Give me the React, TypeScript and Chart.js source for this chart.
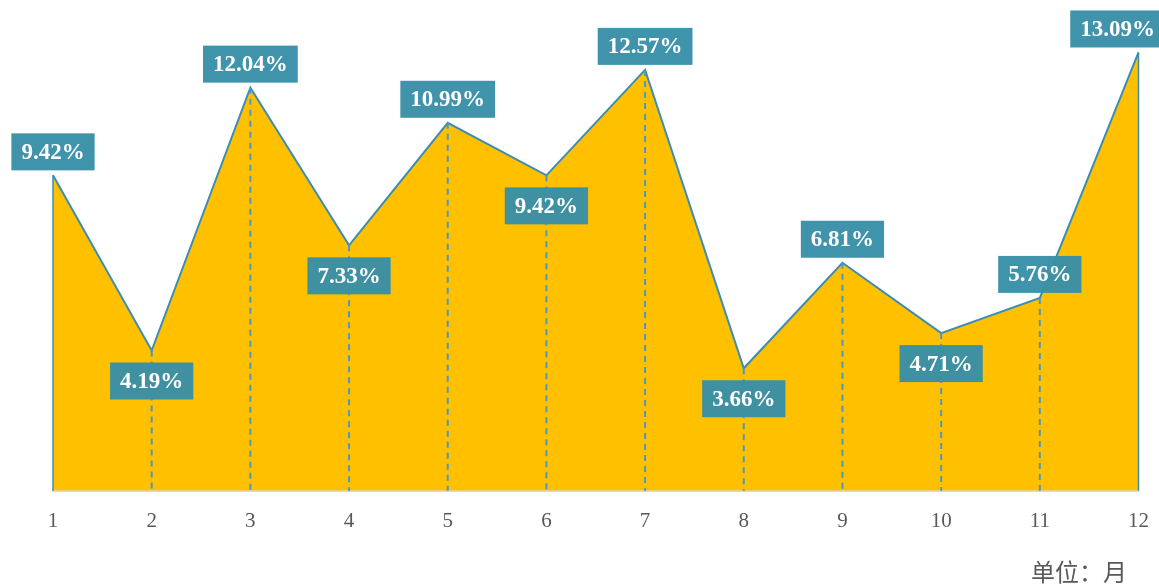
import React, { useEffect, useRef } from "react";
import { Chart, registerables } from "chart.js";

Chart.register(...registerables);

const months = ["1", "2", "3", "4", "5", "6", "7", "8", "9", "10", "11", "12"];
const rates = [9.42, 4.19, 12.04, 7.33, 10.99, 9.42, 12.57, 3.66, 6.81, 4.71, 5.76, 13.09];
const unitLabel = "单位：月";

const W = 1159;
const H = 585;

const labelPlugin = {
  id: "pointLabels",
  afterDatasetsDraw(chart: any) {
    const ctx = chart.ctx;
    const meta = chart.getDatasetMeta(0);
    const base = chart.scales.y.getPixelForValue(0);
    const pts = meta.data;
    ctx.save();
    pts.forEach((p: any, i: number) => {
      ctx.beginPath();
      if (i === 0 || i === pts.length - 1) {
        ctx.setLineDash([]);
        ctx.lineWidth = 1.5;
        ctx.strokeStyle = "#3B8DB4";
      } else {
        ctx.setLineDash([6, 5]);
        ctx.lineWidth = 2;
        ctx.strokeStyle = "#4A98C8";
      }
      ctx.moveTo(p.x, p.y);
      ctx.lineTo(p.x, base);
      ctx.stroke();
    });
    ctx.setLineDash([]);
    ctx.font = "bold 23px 'Liberation Serif', 'Times New Roman', serif";
    ctx.textAlign = "center";
    ctx.textBaseline = "middle";
    pts.forEach((p: any, i: number) => {
      const v = rates[i];
      const text = v.toFixed(2) + "%";
      const tw = ctx.measureText(text).width;
      const bw = tw + 20;
      const bh = 37;
      const prev = i > 0 ? rates[i - 1] : Infinity;
      const next = i < rates.length - 1 ? rates[i + 1] : Infinity;
      const below = v < prev && v < next;
      let cx = p.x;
      cx = Math.min(cx, W + 6 - bw / 2);
      cx = Math.max(cx, bw / 2 + 10);
      const top = below ? p.y + 12 : p.y - 5 - bh;
      ctx.fillStyle = "rgba(57,143,167,0.97)";
      ctx.fillRect(cx - bw / 2, top, bw, bh);
      ctx.fillStyle = "#FFFFFF";
      ctx.fillText(text, cx, top + bh / 2 + 1);
    });
    ctx.restore();
  },
  afterDraw(chart: any) {
    const ctx = chart.ctx;
    ctx.save();
    ctx.font = "24px 'Noto Sans CJK SC', sans-serif";
    ctx.fillStyle = "#595959";
    ctx.textAlign = "right";
    ctx.textBaseline = "middle";
    ctx.fillText(unitLabel, 1127, 572);
    ctx.restore();
  },
};

export default function App() {
  const ref = useRef<HTMLCanvasElement | null>(null);
  useEffect(() => {
    if (!ref.current) return;
    const chart = new Chart(ref.current, {
      type: "line",
      data: {
        labels: months,
        datasets: [
          {
            data: rates,
            borderColor: "#3B8DB4",
            borderWidth: 2,
            backgroundColor: "#FFC000",
            fill: "origin",
            tension: 0,
            pointRadius: 0,
          },
        ],
      },
      options: {
        responsive: false,
        animation: false,
        layout: { padding: { left: 53, right: 18, top: 22, bottom: 41 } },
        plugins: { legend: { display: false }, tooltip: { enabled: false }, title: { display: false } },
        scales: {
          x: {
            grid: { display: false },
            border: { display: true, color: "#D9D9D9", width: 3 },
            ticks: {
              color: "#595959",
              padding: 10,
              maxRotation: 0,
              font: { family: "'Liberation Serif', 'Times New Roman', serif", size: 21 },
            },
          },
          y: { display: false, min: 0, max: 14 },
        },
      },
      plugins: [labelPlugin],
    });
    return () => chart.destroy();
  }, []);
  return (
    <div style={{ position: "absolute", left: 0, top: 0, width: W, height: H, background: "#fff" }}>
      <canvas ref={ref} width={W} height={H} style={{ display: "block" }} />
    </div>
  );
}
